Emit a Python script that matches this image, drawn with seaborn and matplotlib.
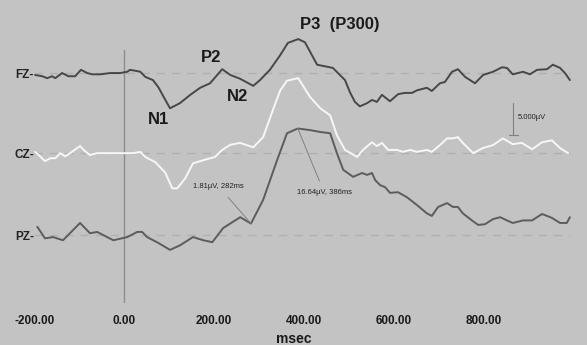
import matplotlib
matplotlib.use("Agg")
import matplotlib.pyplot as plt
import seaborn as sns
import numpy as np

# ERP traces (time in ms, amplitude in microvolts)
fz_ms = [-198, -182, -171, -160, -153, -138, -124, -109, -96, -82, -71, -53, -31, -9, 7, 13,
         29, 36, 47, 64, 76, 90, 102, 124, 147, 169, 191, 218, 236, 258, 287, 302, 324, 347,
         364, 387, 402, 429, 464, 491, 502, 513, 524, 540, 551, 562, 573, 591, 609, 624, 640,
         651, 673, 684, 702, 713, 729, 742, 758, 780, 798, 820, 840, 851, 864, 887, 902, 918,
         940, 953, 969, 980, 991]
fz_uv = [-0.3, -0.5, -0.8, -0.5, -0.8, 0.0, -0.5, -0.5, 0.5, 0.0, -0.2, -0.2, 0.0, 0.0, 0.2,
         0.5, 0.3, 0.2, -0.6, -1.1, -2.2, -4.0, -5.5, -4.7, -3.4, -2.3, -1.6, 0.6, -0.3, -0.9,
         -2.0, -1.1, 0.5, 2.8, 4.7, 5.3, 4.8, 1.3, 0.8, -1.1, -3.0, -4.5, -5.2, -4.7, -4.2,
         -4.5, -3.4, -4.4, -3.3, -3.1, -3.1, -2.7, -2.3, -2.8, -1.6, -1.4, 0.2, 0.6, -0.6,
         -1.6, -0.3, 0.2, 0.9, 0.8, -0.2, 0.2, -0.2, 0.5, 0.6, 1.3, 0.8, 0.0, -1.1]

cz_ms = [-198, -187, -176, -164, -153, -142, -131, -120, -98, -87, -76, -60, -38, -16, 7, 20,
         36, 47, 69, 91, 107, 118, 136, 153, 176, 202, 218, 236, 258, 287, 309, 329, 347, 362,
         387, 413, 436, 458, 473, 491, 518, 531, 551, 562, 573, 587, 607, 620, 636, 651, 673,
         684, 702, 718, 731, 742, 753, 776, 798, 820, 842, 864, 884, 907, 929, 951, 969, 987]
cz_uv = [0.2, -0.5, -1.25, -0.8, -0.8, 0.0, -0.5, 0.0, 1.1, 0.3, -0.3, 0.0, 0.0, 0.0, 0.0, 0.0,
         0.2, -0.6, -1.4, -3.0, -5.5, -5.5, -3.9, -1.6, -1.1, -0.6, 0.5, 1.3, 1.6, 0.9, 2.5,
         6.4, 9.8, 11.3, 11.7, 8.8, 7.0, 5.9, 2.8, 0.5, -0.6, 0.5, 1.7, 1.1, 1.6, 0.5, 0.5,
         0.2, 0.5, 0.2, 0.5, 0.2, 1.25, 2.3, 2.3, 2.5, 1.6, 0.0, 0.8, 1.25, 2.3, 1.4, 1.6, 0.6,
         1.7, 2.0, 0.8, 0.0]

pz_ms = [-193, -176, -158, -136, -98, -76, -60, -24, 7, 29, 40, 51, 73, 102, 124, 153, 176,
         196, 220, 258, 282, 309, 340, 362, 386, 413, 436, 458, 473, 487, 509, 529, 540, 551,
         558, 569, 580, 591, 609, 629, 651, 673, 684, 698, 718, 731, 742, 753, 773, 787, 802,
         820, 836, 851, 864, 887, 907, 929, 951, 969, 984, 991]
pz_uv = [1.3, -0.5, -0.3, -0.8, 1.9, 0.3, 0.5, -0.8, -0.3, 0.5, 0.5, -0.3, -1.1, -2.3, -1.6,
         -0.3, -0.8, -1.1, 1.1, 2.8, 1.81, 5.5, 11.7, 15.9, 16.64, 16.4, 16.1, 15.9, 12.8,
         10.2, 9.1, 9.7, 9.4, 9.7, 8.6, 7.8, 7.5, 6.6, 6.7, 5.9, 4.7, 3.4, 3.0, 4.4, 5.0, 4.4,
         4.4, 3.4, 2.3, 1.6, 1.7, 2.5, 2.8, 2.3, 1.9, 2.3, 2.3, 3.3, 2.7, 1.9, 1.9, 2.8]

channels = ["FZ", "CZ", "PZ"]
offsets = [25.3, 12.8, 0.0]
x_ticks = [-200, 0, 200, 400, 600, 800]

bg = "#c3c3c3"
sns.set_style("white", {"axes.facecolor": bg, "figure.facecolor": bg})
plt.rcParams['font.family'] = ['Liberation Sans', 'DejaVu Sans']

fig = plt.figure(figsize=(5.87, 3.45), dpi=100)
ax = fig.add_axes([0, 0.116, 1, 0.884])
ax.set_xlim(-276, 1029)
ax.set_ylim(-10.9, 36.7)

# baselines
for off in offsets:
    ax.plot([-200, 991], [off, off], color="#b0b0b0", lw=1.0, ls=(0, (6, 5)), zorder=1)

# stimulus onset
ax.plot([0, 0], [-10.4, 36.7 - 50 / 6.4], color="#8c8c8c", lw=1.0, zorder=1)

traces = [(fz_ms, fz_uv, "#474747"), (cz_ms, cz_uv, "#f7f7f7"), (pz_ms, pz_uv, "#5c5c5c")]
for (ms, uv, col), off in zip(traces, offsets):
    sns.lineplot(x=ms, y=np.array(uv) + off, color=col, lw=1.4, ax=ax, zorder=3)

for name, off in zip(channels, offsets):
    ax.text(-243, off - 0.3, name + "-", ha="left", va="center", fontsize=8.5,
            fontweight="bold", color="#222222")

# component labels
lab = dict(fontsize=12, fontweight="bold", color="#1a1a1a", ha="center", va="center")
ax.text(76, 25.3 - 7.2, "N1", **lab)
ax.text(193, 25.3 + 2.4, "P2", **lab)
ax.text(251, 25.3 - 3.6, "N2", **lab)
ax.text(480, 25.3 + 7.6, "P3  (P300)", **lab)

# cursor annotations on PZ
small = dict(fontsize=5.5, color="#222222", ha="center", va="center")
ax.annotate("1.81\u00b5V, 282ms", xy=(282, 1.81), xytext=(210, 7.6), **small,
            arrowprops=dict(arrowstyle="-", color="#808080", lw=0.7, shrinkA=4, shrinkB=0))
ax.annotate("16.64\u00b5V, 386ms", xy=(386, 16.64), xytext=(445, 6.6), **small,
            arrowprops=dict(arrowstyle="-", color="#808080", lw=0.7, shrinkA=4, shrinkB=0))

# 5 uV scale bar
ax.plot([865, 865], [20.7, 15.7], color="#808080", lw=0.8)
ax.plot([855, 875], [15.7, 15.7], color="#808080", lw=0.8)
ax.text(876, 18.4, "5.000\u00b5V", fontsize=5.5, color="#222222", ha="left", va="center")

ax.set_xticks(x_ticks)
ax.set_xticklabels(["%.2f" % t for t in x_ticks], fontsize=8.5, fontweight="bold", color="#1a1a1a")
ax.set_yticks([])
ax.tick_params(axis="x", direction="in", length=7, width=1, color="#a8a8a8", pad=7)
ax.set_xlabel("msec", fontsize=10, fontweight="bold", color="#1a1a1a", labelpad=4)
for s in ax.spines.values():
    s.set_visible(False)

fig.savefig("out.png", dpi=100, facecolor=bg)
